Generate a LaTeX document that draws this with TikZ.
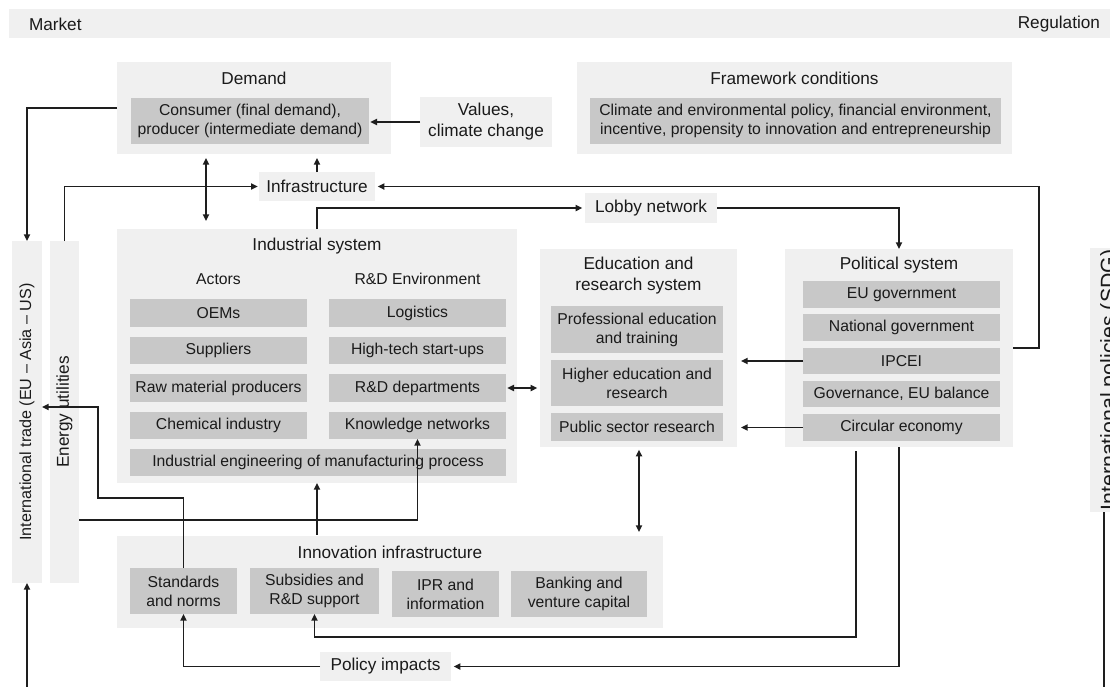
\documentclass[tikz,border=0pt]{standalone}
\usepackage{fontspec}
\setmainfont{Liberation Sans}
\usepackage{graphicx}
\usetikzlibrary{arrows.meta}
\definecolor{outerc}{HTML}{F0F0F0}
\definecolor{innerc}{HTML}{C8C8C8}
\definecolor{linec}{HTML}{1E1E1E}
\definecolor{txtc}{HTML}{1A1A1A}
\newcommand\mkbox[7]{\node[#2, minimum width={(#5-#3)*0.75pt}, minimum height={(#6-#4)*0.75pt}] (#1) at ({(#3+#5)/2},{(#4+#6)/2}) {#7};}
\begin{document}
\begin{tikzpicture}[x=0.75pt,y=-0.75pt,
  base/.style={inner sep=0pt, outer sep=0pt, align=center, text=txtc, font=\fontsize{11.8}{14.3}\selectfont},
  big/.style={font=\fontsize{12.9}{15.7}\selectfont},
  outerbox/.style={base, fill=outerc},
  innerbox/.style={base, fill=innerc},
  lbl/.style={base},
  conn/.style={draw=linec, line width=1.1pt},
  arr/.style={conn, -{Triangle[length=5pt,width=4.6pt]}},
  darr/.style={conn, {Triangle[length=5pt,width=4.6pt]}-{Triangle[length=5pt,width=4.6pt]}},
]
\useasboundingbox (0,0) rectangle (1110,686);
\clip (0,0) rectangle (1110,686);
\fill[white] (0,0) rectangle (1110,686);

% top bar
\mkbox{topbar}{outerbox}{9}{9}{1110}{38}{}
\node[lbl, big, anchor=west] (market) at (29,24) {Market};
\node[lbl, big, anchor=east] (regul) at (1100,24) {Regulation};

% demand
\mkbox{demand}{outerbox}{117}{62}{391}{154}{}
\node[lbl, big] (demandT) at (254,78) {Demand};
\mkbox{consumer}{innerbox}{131}{98}{369}{144}{Consumer (final demand),\\producer (intermediate demand)}
\mkbox{values}{outerbox, big}{420}{97}{552}{147}{Values,\\climate change}

% framework
\mkbox{framework}{outerbox}{577}{62}{1012}{154}{}
\node[lbl, big] (fwT) at (794.5,78) {Framework conditions};
\mkbox{fwinner}{innerbox}{590}{98}{1001}{144}{Climate and environmental policy, financial environment,\\incentive, propensity to innovation and entrepreneurship}

% infrastructure, lobby
\mkbox{infra}{outerbox, big}{259}{172}{375}{201}{Infrastructure}
\mkbox{lobby}{outerbox, big}{585}{193}{717}{223}{Lobby network}

% side bars
\mkbox{trade}{outerbox}{12}{241}{42}{583}{\fontsize{12.1}{14}\selectfont\rotatebox{90}{International trade (EU – Asia – US)}}
\mkbox{energy}{outerbox, big}{50}{241}{79}{583}{\rotatebox{90}{Energy utilities}}
\mkbox{policies}{outerbox}{1090}{248}{1130}{512}{\fontsize{16}{18}\selectfont\rotatebox{90}{International policies (SDG)}}

% industrial system
\mkbox{industrial}{outerbox}{117}{229}{517}{483}{}
\node[lbl, big] (indT) at (317,246) {Industrial system};
\node[lbl] (actT) at (218.5,279) {Actors};
\node[lbl] (rdT) at (417.5,279) {R\&D Environment};
\mkbox{oem}{innerbox}{130}{299}{307}{327}{OEMs}
\mkbox{logistics}{innerbox}{329}{299}{506}{327}{Logistics}
\mkbox{suppliers}{innerbox}{130}{337}{307}{364}{Suppliers}
\mkbox{hightech}{innerbox}{329}{337}{506}{364}{High-tech start-ups}
\mkbox{raw}{innerbox}{130}{374}{307}{402}{Raw material producers}
\mkbox{rddep}{innerbox}{329}{374}{506}{402}{R\&D departments}
\mkbox{chem}{innerbox}{130}{412}{307}{439}{Chemical industry}
\mkbox{knowledge}{innerbox}{329}{412}{506}{439}{Knowledge networks}
\mkbox{indeng}{innerbox}{130}{449}{506}{476}{Industrial engineering of manufacturing process}

% education
\mkbox{education}{outerbox}{540}{249}{737}{447}{}
\node[lbl, big] (eduT) at (638.5,275.5) {Education and\\research system};
\mkbox{prof}{innerbox}{551}{306}{723}{353}{Professional education\\and training}
\mkbox{higher}{innerbox}{551}{360}{723}{406}{Higher education and\\research}
\mkbox{public}{innerbox}{551}{413}{723}{441}{Public sector research}

% political
\mkbox{political}{outerbox}{785}{249}{1013}{447}{}
\node[lbl, big] (polT) at (899,265) {Political system};
\mkbox{eugov}{innerbox}{803}{281}{1000}{308}{EU government}
\mkbox{natgov}{innerbox}{803}{314}{1000}{341}{National government}
\mkbox{ipcei}{innerbox}{803}{348}{1000}{374}{IPCEI}
\mkbox{gov}{innerbox}{803}{381}{1000}{407}{Governance, EU balance}
\mkbox{circ}{innerbox}{803}{414}{1000}{441}{Circular economy}

% innovation infrastructure
\mkbox{innovation}{outerbox}{117}{536}{663}{628}{}
\node[lbl, big] (innT) at (390,552) {Innovation infrastructure};
\mkbox{standards}{innerbox}{130}{568}{237}{614}{Standards\\and norms}
\mkbox{subsidies}{innerbox}{250}{568}{379}{614}{Subsidies and\\R\&D support}
\mkbox{ipr}{innerbox}{392}{571}{499}{617}{IPR and\\information}
\mkbox{banking}{innerbox}{511}{571}{647}{617}{Banking and\\venture capital}

\mkbox{policyimp}{outerbox, big}{320}{652}{451}{681}{Policy impacts}

% connectors
\draw[arr, shorten >=1pt] (values.west) -- (consumer.east |- values.west);
\draw[arr] (demand.west) -| (trade.north);
\draw[darr, shorten <=3pt, shorten >=6pt] (demand.south -| 206,0) -- (industrial.north -| 206,0);
\draw[arr, shorten >=3pt] (infra.north) -- (demand.south -| infra.north);
\draw[arr, shorten >=1pt] (energy.north) |- (infra.west);
\draw[arr, shorten >=2pt] (political.east) -- ++(26,0) |- (infra.east);
\draw[arr, shorten >=2pt] (industrial.north) |- (lobby.west);
\draw[arr] (lobby.east) -| (political.north);
\draw[darr, shorten <=1pt, shorten >=2pt] (rddep.east) -- (education.west |- rddep.east);
\draw[arr, shorten >=3pt] (ipcei.west) -- (education.east |- ipcei.west);
\draw[arr, shorten >=3pt] (circ.west) -- (education.east |- circ.west);
\draw[darr, shorten <=2pt, shorten >=3pt] (education.south -| 639,0) -- (innovation.north -| 639,0);
\draw[arr, shorten <=1pt] (innovation.north -| industrial.south) -- (industrial.south);
\draw[arr] (energy.east |- 0,520) -| (knowledge.south);
\draw[arr] (standards.north) |- (98,498) |- (trade.east |- 0,407);
\draw[arr, shorten <=3pt] (political.south -| 856,0) |- (subsidies.south |- 0,637) -- (subsidies.south);
\draw[arr, shorten >=2pt] (political.south) |- (policyimp.east);
\draw[arr] (policyimp.west) -| (standards.south);
\coordinate (tradebot) at (27,700);
\draw[arr] (tradebot) -- (trade.south);
\coordinate (polbot) at (1104,700);
\draw[conn] (policies.south -| polbot) -- (polbot);
\end{tikzpicture}
\end{document}
